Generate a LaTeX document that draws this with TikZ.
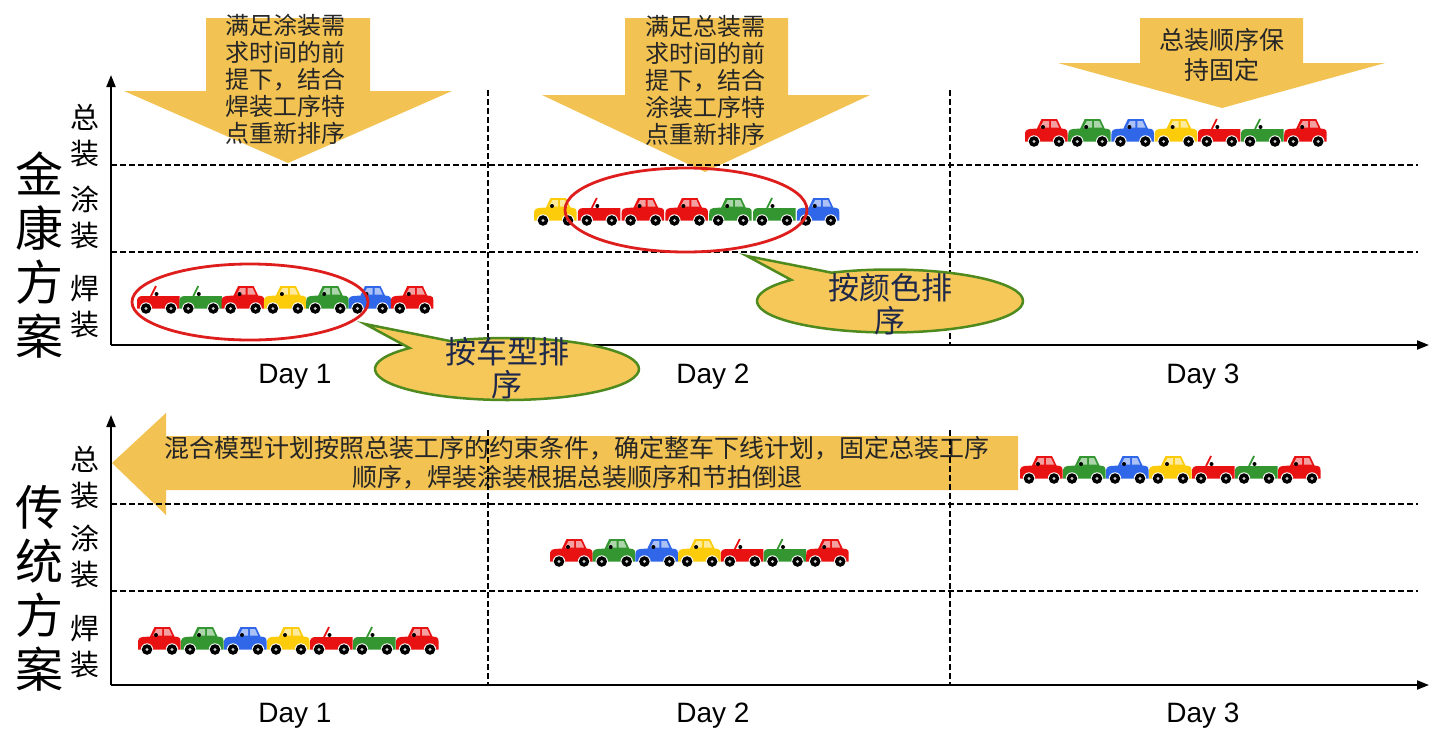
\documentclass[tikz,border=0pt]{standalone}
\usepackage{fontspec}
\setmainfont{Liberation Sans}
\newfontfamily\cjk{Noto Sans CJK SC}
\usetikzlibrary{arrows.meta,shapes.callouts}

\definecolor{arrowGold}{RGB}{242,194,82}
\definecolor{bubbleFill}{RGB}{246,200,90}
\definecolor{bubbleGreen}{RGB}{78,138,30}
\definecolor{bubbleText}{RGB}{30,40,75}
\definecolor{ringRed}{RGB}{222,30,28}
\definecolor{carRed}{RGB}{232,18,18}
\definecolor{carGreen}{RGB}{52,150,48}
\definecolor{carBlue}{RGB}{48,102,232}
\definecolor{carYellow}{RGB}{252,204,10}

\begin{document}
\begin{tikzpicture}[x=1pt,y=-1pt,
  axis/.style={line width=2pt,-{Triangle[length=12pt,width=9pt]}},
  gridline/.style={line width=1.3pt,dash pattern=on 6pt off 3pt},
  blockarrow/.style={fill=arrowGold},
  arrowtext/.style={font={\cjk\fontsize{24}{27}\selectfont},text=black!85,align=center},
  bubble/.style={ellipse callout,draw=bubbleGreen,line width=2.5pt,fill=bubbleFill,
    inner sep=0pt,callout pointer arc=22},
  bubbletext/.style={font={\cjk\fontsize{31}{33}\selectfont},text=bubbleText,align=center},
  ring/.style={draw=ringRed,line width=2.8pt},
  daylabel/.style={font=\fontsize{28}{30}\selectfont},
  stage/.style={font={\cjk\fontsize{29}{36}\selectfont},align=center},
  scheme/.style={font={\cjk\fontsize{48}{54}\selectfont},align=center}
]
\useasboundingbox (0,0) rectangle (1429,731);

    % cars face left, origin just above the wheel centres
    \newcommand{\carWheels}{
      \foreach \wx in {-12,13}{
        \fill[white] (\wx,1.5) circle (6.2);
        \fill[black] (\wx,1.5) circle (5.3);
        \fill[gray!40] (\wx,1.5) circle (1.6);
      }
    }
    \newcommand{\carSedan}[2]{
      \begin{scope}[shift={(#1)}]
        \fill[#2] (-21,1.5) -- (-21,-5) .. controls (-21,-9) and (-20,-10.5) .. (-16,-11)
          -- (-9,-11.5) -- (-4.5,-21) -- (11,-21) -- (15.5,-11.5) -- (19,-11)
          .. controls (21,-10.5) and (21.5,-9) .. (21.5,-7) -- (21.5,1.5) -- cycle;
        \fill[white,opacity=.6] (-2.5,-19) -- (3,-19) -- (3,-12.5) -- (-6,-12.5) -- cycle;
        \fill[white,opacity=.6] (5,-19) -- (10,-19) -- (13,-12.5) -- (5,-12.5) -- cycle;
        \fill[black] (-3,-13) circle (2);
        \carWheels
      \end{scope}
    }
    \newcommand{\carConv}[2]{
      \begin{scope}[shift={(#1)}]
        \fill[#2] (-21,1.5) -- (-21,-5) .. controls (-21,-9) and (-20,-10.5) .. (-16,-11)
          -- (21.5,-11) -- (21.5,1.5) -- cycle;
        \draw[#2,line width=1.8pt] (-7,-11) -- (-2,-21);
        \fill[black] (-1.5,-13) circle (2);
        \carWheels
      \end{scope}
    }
    \newcommand{\carRow}[4]{
      \foreach \kind/\col [count=\i from 0] in {#4}{
        \csname car\kind\endcsname{#1+#2*\i,#3}{\col}
      }
    }

    % block arrows
    \fill[blockarrow] (206,18) -- (370,18) -- (370,91) -- (452,91) -- (288,163)
      -- (124,91) -- (206,91) -- cycle;
    \fill[blockarrow] (625,18) -- (788,18) -- (788,95) -- (870,95) -- (705,172)
      -- (542,95) -- (625,95) -- cycle;
    \fill[blockarrow] (1140,18) -- (1303,18) -- (1303,63) -- (1385,63) -- (1222,108)
      -- (1058,63) -- (1140,63) -- cycle;
    \fill[blockarrow] (112,463) -- (166,413) -- (166,436) -- (1018,436) -- (1018,490)
      -- (166,490) -- (166,515) -- cycle;

    \node[arrowtext] (paintNote) at (285,79) {满足涂装需\\求时间的前\\提下，结合\\焊装工序特\\点重新排序};
    \node[arrowtext] (finalNote) at (705,80) {满足总装需\\求时间的前\\提下，结合\\涂装工序特\\点重新排序};
    \node[arrowtext,font={\cjk\fontsize{25}{30}\selectfont}] (keepNote) at (1222,55) {总装顺序保\\持固定};
    \node[arrowtext,font={\cjk\fontsize{25}{29}\selectfont}] (planNote) at (577,463)
      {混合模型计划按照总装工序的约束条件，确定整车下线计划，固定总装工序\\顺序，焊装涂装根据总装顺序和节拍倒退};

    % axes
    \coordinate (O1) at (111,345);
    \coordinate (Y1) at (111,75);
    \coordinate (X1) at (1429,345);
    \coordinate (O2) at (111,685);
    \coordinate (Y2) at (111,415);
    \coordinate (X2) at (1429,685);

    % grid
    \foreach \y in {165,252,504,591}{
      \draw[gridline] (111,\y) -- (1418,\y);
    }
    \foreach \x in {488,950}{
      \draw[gridline] (\x,90) -- (\x,345);
      \draw[gridline] (\x,430) -- (\x,685);
    }

    \draw[axis] (O1) -- (Y1);
    \draw[axis] (O1) -- (X1);
    \draw[axis] (O2) -- (Y2);
    \draw[axis] (O2) -- (X2);

    % labels
    \node[daylabel] (d11) at (295,377) {Day 1};
    \node[daylabel] (d12) at (713,377) {Day 2};
    \node[daylabel] (d13) at (1203,377) {Day 3};
    \node[daylabel] (d21) at (295,716) {Day 1};
    \node[daylabel] (d22) at (713,716) {Day 2};
    \node[daylabel] (d23) at (1203,716) {Day 3};

    \node[scheme] (jk) at (39,255) {金\\康\\方\\案};
    \node[scheme] (ct) at (40,588) {传\\统\\方\\案};
    \node[stage] (a1) at (85,136) {总\\装};
    \node[stage] (p1) at (85,217) {涂\\装};
    \node[stage] (w1) at (85,307) {焊\\装};
    \node[stage] (a2) at (85,478) {总\\装};
    \node[stage] (p2) at (85,556) {涂\\装};
    \node[stage] (w2) at (85,647) {焊\\装};

    % cars
    \carRow{158}{42.3}{307}{Conv/carRed,Conv/carGreen,Sedan/carRed,Sedan/carYellow,Sedan/carGreen,Sedan/carBlue,Sedan/carRed}
    \carRow{555}{43.8}{219}{Sedan/carYellow,Conv/carRed,Sedan/carRed,Sedan/carRed,Sedan/carGreen,Conv/carGreen,Sedan/carBlue}
    \carRow{1046}{43.2}{140}{Sedan/carRed,Sedan/carGreen,Sedan/carBlue,Sedan/carYellow,Conv/carRed,Conv/carGreen,Sedan/carRed}
    \carRow{159}{43}{648}{Sedan/carRed,Sedan/carGreen,Sedan/carBlue,Sedan/carYellow,Conv/carRed,Conv/carGreen,Sedan/carRed}
    \carRow{571}{42.7}{560}{Sedan/carRed,Sedan/carGreen,Sedan/carBlue,Sedan/carYellow,Conv/carRed,Conv/carGreen,Sedan/carRed}
    \carRow{1041}{43}{477}{Sedan/carRed,Sedan/carGreen,Sedan/carBlue,Sedan/carYellow,Conv/carRed,Conv/carGreen,Sedan/carRed}

    \draw[ring] (250,302) ellipse [x radius=118pt,y radius=38pt];
    \draw[ring] (686,210) ellipse [x radius=121pt,y radius=42pt];

    % callouts
    \coordinate (typeTip) at (365,324);
    \coordinate (colourTip) at (747,256);
    \node[bubble,minimum width=264pt,minimum height=62pt,callout absolute pointer={(typeTip)}]
      (typeBubble) at (507,369) {};
    \node[bubbletext] (typeText) at (507,368) {按车型排\\序};
    \node[bubble,minimum width=266pt,minimum height=63pt,callout absolute pointer={(colourTip)}]
      (colourBubble) at (890,301) {};
    \node[bubbletext] (colourText) at (890,304) {按颜色排\\序};

\end{tikzpicture}
\end{document}
